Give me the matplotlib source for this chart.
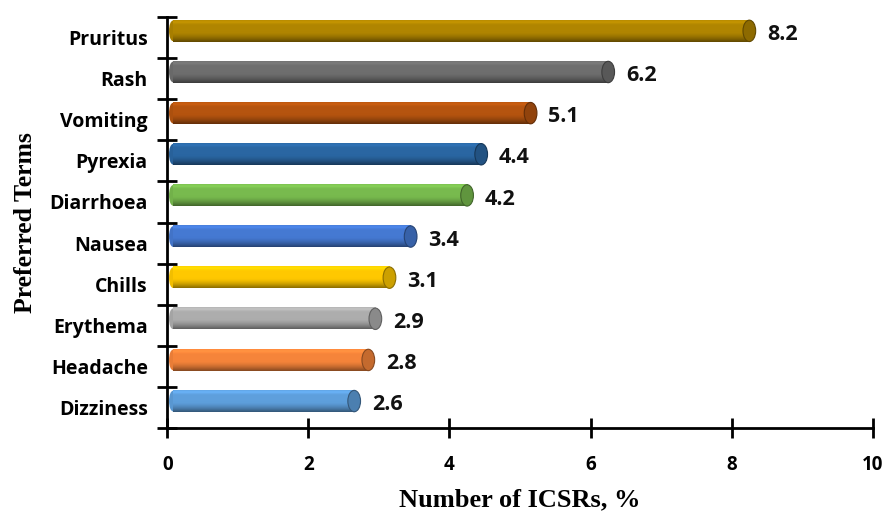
import numpy as np
import matplotlib.pyplot as plt
from matplotlib.patches import Ellipse
from matplotlib.colors import to_rgb

# adverse event terms, bottom to top
terms = ['Dizziness', 'Headache', 'Erythema', 'Chills', 'Nausea',
         'Diarrhoea', 'Pyrexia', 'Vomiting', 'Rash', 'Pruritus']
values = [2.6, 2.8, 2.9, 3.1, 3.4, 4.2, 4.4, 5.1, 6.2, 8.2]
colors = ['#5E9FDC', '#F5843A', '#ADADAD', '#FFC800', '#4579D2',
          '#78BA4E', '#2A66A2', '#B5540F', '#6E6E6E', '#B08500']

fig = plt.figure(figsize=(8.87, 5.11), dpi=100)
ax = fig.add_axes([0.1885, 0.162, 0.7955, 0.805])

bar_h = 0.52
shift = 0.16   # bars sit a bit above the band centre
cap_w = 0.18

# vertical shading profile for a cylinder: thin light rim on top, darker underside
rows = 40
t = np.linspace(0, 1, rows)
shade = 1.0 + 0.12 * np.exp(-((t - 0.08) / 0.08) ** 2) - 0.45 * np.clip((t - 0.55) / 0.45, 0, 1) ** 1.5

for i, (v, c) in enumerate(zip(values, colors)):
    base = np.array(to_rgb(c))
    img = np.clip(base[None, :] * shade[:, None], 0, 1)
    img = np.repeat(img[:, None, :], 2, axis=1)
    y0 = i + shift - bar_h / 2
    y1 = i + shift + bar_h / 2
    ax.imshow(img, extent=(0.08, v + 0.05, y0, y1), origin='upper',
              aspect='auto', interpolation='bilinear', zorder=2)
    # rounded left end
    ax.add_patch(Ellipse((0.08, i + shift), cap_w * 0.6, bar_h * 0.96,
                         facecolor=base * 0.95, edgecolor='none', zorder=1.9))
    # end cap
    ax.add_patch(Ellipse((v + 0.05, i + shift), cap_w, bar_h,
                         facecolor=np.clip(base * 0.8, 0, 1),
                         edgecolor=np.clip(base * 0.55, 0, 1), lw=0.8, zorder=3))
    ax.text(v + 0.3, i + 0.07, f'{v}', va='center', ha='left',
            fontsize=15.5, fontweight='bold', family='Open Sans', color='#111111')

ax.set_xlim(0, 10)
ax.set_ylim(-0.5, 9.5)

ax.set_xticks([0, 2, 4, 6, 8, 10])
ax.set_xticklabels(['0', '2', '4', '6', '8', '10'], fontsize=13.5,
                   fontweight='bold', family='Open Sans')
ax.tick_params(axis='x', direction='inout', length=14, width=2, pad=12)

# ticks on the category boundaries, labels in between
ax.set_yticks(np.arange(-0.5, 10, 1))
ax.set_yticklabels([])
ax.set_yticks(np.arange(10), minor=True)
ax.set_yticklabels(terms, minor=True, fontsize=14, fontweight='bold', family='Open Sans')
ax.tick_params(axis='y', which='major', direction='inout', length=14, width=2)
ax.tick_params(axis='y', which='minor', length=0, pad=14)

for s in ['top', 'right']:
    ax.spines[s].set_visible(False)
for s in ['left', 'bottom']:
    ax.spines[s].set_linewidth(2)

ax.set_xlabel('Number of ICSRs, %', fontsize=19, fontweight='bold',
              family='Liberation Serif', labelpad=10)
ax.set_ylabel('Preferred Terms', fontsize=18.5, fontweight='bold',
              family='Liberation Serif', labelpad=9)

fig.savefig('out.png', dpi=100)
